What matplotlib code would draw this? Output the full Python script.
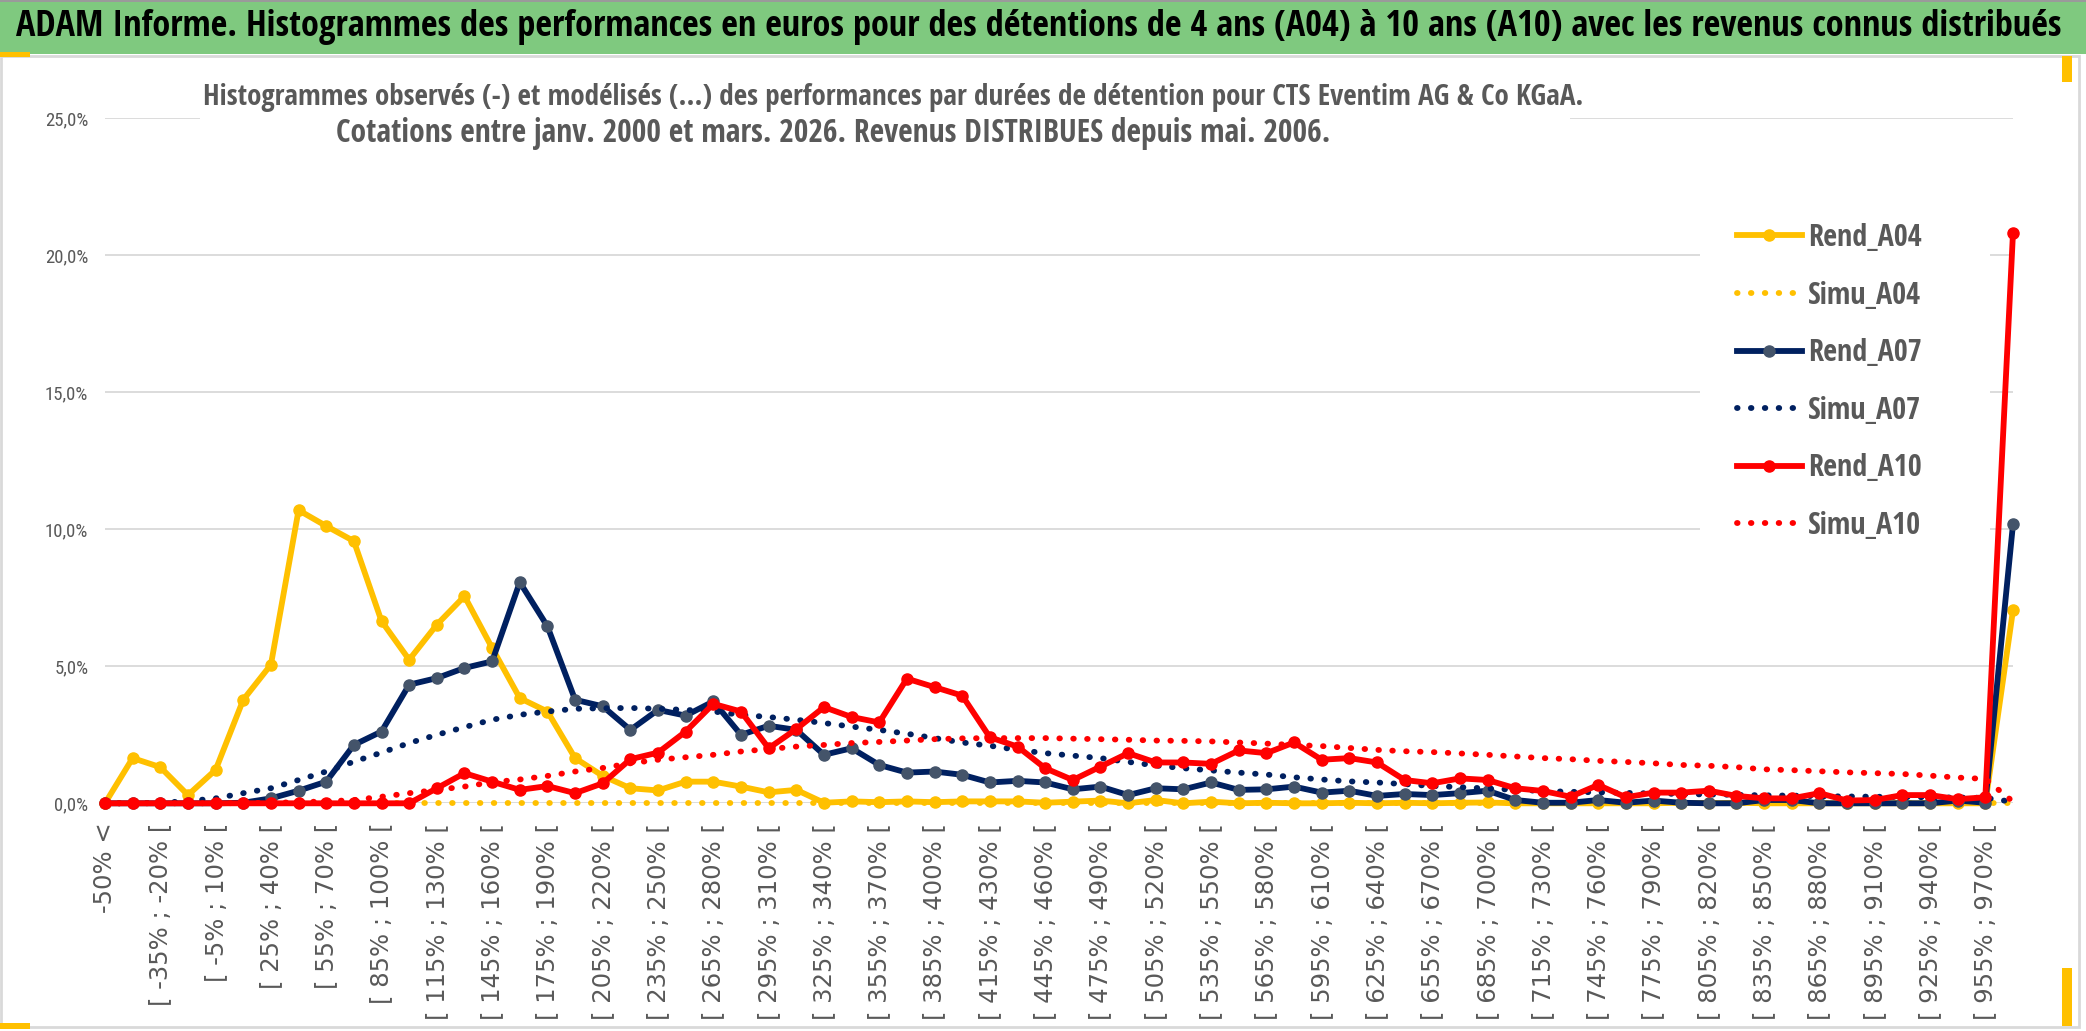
import matplotlib
matplotlib.use('Agg')
import matplotlib.pyplot as plt
from matplotlib import font_manager
from matplotlib.patches import Rectangle
from matplotlib.font_manager import FontProperties

# ---------------- data ----------------
categories = ["-50% <"] + [f"[ {a}% ; {a + 15}% [" for a in range(-50, 956, 15)] + ["> 970%"]

rend_a04 = [0.0, 1.65, 1.32, 0.3, 1.22, 3.78, 5.06, 10.7, 10.12, 9.57,
            6.65, 5.24, 6.52, 7.56, 5.67, 3.84, 3.35, 1.65, 1.0, 0.55,
            0.47, 0.79, 0.79, 0.61, 0.4, 0.49, 0.02, 0.07, 0.04, 0.07,
            0.04, 0.07, 0.07, 0.07, 0.02, 0.06, 0.1, 0.0, 0.12, 0.0,
            0.06, 0.0, 0.02, 0.0, 0.0, 0.02, 0.0, 0.02, 0.0, 0.02,
            0.03, 0.0, 0.0, 0.0, 0.0, 0.0, 0.0, 0.02, 0.0, 0.02,
            0.0, 0.0, 0.0, 0.0, 0.0, 0.0, 0.0, 0.0, 0.0, 7.05]

simu_a04 = [0.0] * 70

rend_a07 = [0.0, 0.0, 0.0, 0.0, 0.0, 0.02, 0.18, 0.46, 0.79, 2.13,
            2.62, 4.33, 4.57, 4.94, 5.18, 8.07, 6.46, 3.78, 3.54, 2.68,
            3.41, 3.2, 3.72, 2.5, 2.83, 2.68, 1.77, 2.01, 1.4, 1.12,
            1.16, 1.04, 0.76, 0.82, 0.76, 0.51, 0.61, 0.30, 0.55, 0.51,
            0.76, 0.49, 0.51, 0.61, 0.39, 0.46, 0.27, 0.34, 0.30, 0.37,
            0.46, 0.12, 0.02, 0.02, 0.12, 0.02, 0.1, 0.02, 0.0, 0.0,
            0.12, 0.12, 0.0, 0.0, 0.0, 0.0, 0.0, 0.1, 0.02, 10.19]

simu_a07 = [0.0, 0.0, 0.02, 0.08, 0.18, 0.37, 0.55, 0.85, 1.16, 1.52,
            1.85, 2.2, 2.5, 2.78, 3.05, 3.23, 3.35, 3.45, 3.47, 3.48,
            3.45, 3.41, 3.35, 3.23, 3.15, 3.05, 2.93, 2.8, 2.68, 2.54,
            2.38, 2.22, 2.1, 1.95, 1.83, 1.74, 1.65, 1.51, 1.38, 1.28,
            1.2, 1.12, 1.05, 0.95, 0.87, 0.8, 0.76, 0.7, 0.63, 0.59,
            0.54, 0.49, 0.45, 0.42, 0.40, 0.38, 0.36, 0.34, 0.32, 0.31,
            0.29, 0.28, 0.26, 0.25, 0.24, 0.23, 0.22, 0.21, 0.20, 0.05]

rend_a10 = [0.0, 0.0, 0.0, 0.0, 0.0, 0.0, 0.0, 0.0, 0.0, 0.0,
            0.0, 0.0, 0.55, 1.1, 0.79, 0.49, 0.63, 0.37, 0.73, 1.61,
            1.85, 2.62, 3.63, 3.35, 2.01, 2.71, 3.51, 3.15, 2.95, 4.55,
            4.24, 3.93, 2.41, 2.07, 1.28, 0.85, 1.34, 1.83, 1.49, 1.49,
            1.44, 1.93, 1.83, 2.22, 1.59, 1.65, 1.49, 0.85, 0.73, 0.91,
            0.85, 0.55, 0.45, 0.24, 0.67, 0.22, 0.39, 0.39, 0.46, 0.27,
            0.18, 0.18, 0.37, 0.10, 0.12, 0.30, 0.30, 0.15, 0.22, 20.83]

simu_a10 = [0.0, 0.0, 0.0, 0.0, 0.0, 0.01, 0.02, 0.04, 0.07, 0.12,
            0.24, 0.37, 0.49, 0.61, 0.77, 0.87, 1.0, 1.16, 1.29, 1.46,
            1.59, 1.68, 1.77, 1.89, 1.98, 2.07, 2.13, 2.2, 2.24, 2.29,
            2.34, 2.37, 2.38, 2.38, 2.38, 2.36, 2.34, 2.32, 2.29, 2.28,
            2.26, 2.22, 2.18, 2.13, 2.09, 2.02, 1.95, 1.9, 1.87, 1.82,
            1.77, 1.71, 1.65, 1.61, 1.55, 1.51, 1.46, 1.40, 1.37, 1.32,
            1.24, 1.21, 1.17, 1.13, 1.10, 1.07, 1.01, 0.94, 0.89, 0.06]

y_ticks = [0, 5, 10, 15, 20, 25]
y_tick_labels = ["0,0%", "5,0%", "10,0%", "15,0%", "20,0%", "25,0%"]

title = ("ADAM Informe. Histogrammes des performances en euros pour des détentions "
         "de 4 ans (A04) à 10 ans (A10) avec les revenus connus distribués")
subtitle1 = ("Histogrammes observés (-) et modélisés (...) des performances par durées "
             "de détention pour CTS Eventim AG & Co KGaA.")
subtitle2 = "Cotations entre janv. 2000 et mars. 2026. Revenus DISTRIBUES depuis mai. 2006."

# ---------------- style ----------------
names = {f.name for f in font_manager.fontManager.ttflist}
COND_B = 'Open Sans Condensed' if 'Open Sans Condensed' in names else 'Roboto Condensed'
COND_R = 'Roboto Condensed' if 'Roboto Condensed' in names else 'DejaVu Sans'
WIDE = 'DejaVu Sans'
GRAY = '#595959'
GRID = '#d9d9d9'
YEL, NAVY, RED, SLATE = '#FFC000', '#002060', '#FF0000', '#44546A'

W, H = 2086, 1031
fig = plt.figure(figsize=(W / 100, H / 100), dpi=100)
fig.patch.set_facecolor('white')
r = fig.canvas.get_renderer()


def fx(px):
    return px / W


def fy(py):
    return 1 - py / H


def fit(txt, target):
    w = txt.get_window_extent(r).width
    txt.set_fontsize(txt.get_fontsize() * target / w)


# header band
fig.add_artist(Rectangle((0, fy(54)), 1, 54 / H, transform=fig.transFigure,
                         fc='#7fc97f', ec='none', zorder=0))
fig.add_artist(Rectangle((0, fy(2)), 1, 2 / H, transform=fig.transFigure,
                         fc='#9a9a9a', ec='none', zorder=0))
# chart frame
fig.add_artist(Rectangle((fx(1), fy(1027)), fx(2079) - fx(1), (1027 - 56) / H,
                         transform=fig.transFigure, fill=False, ec=GRID, lw=2, zorder=0))
# small selection marks
for (x0, y0, x1, y1) in [(0, 52, 30, 57), (2062, 56, 2072, 82), (0, 1023, 30, 1029),
                         (2062, 968, 2072, 1026)]:
    fig.add_artist(Rectangle((fx(x0), fy(y1)), fx(x1) - fx(x0), (y1 - y0) / H,
                             transform=fig.transFigure, fc=YEL, ec='none', zorder=1))

ax = fig.add_axes([fx(105), fy(803.3), fx(2013) - fx(105), (803.3 - 118.4) / H])
ax.set_xlim(0, len(categories) - 1)
ax.set_ylim(0, 25)
for s in ax.spines.values():
    s.set_visible(False)
ax.set_axisbelow(True)

x = list(range(len(categories)))
ax.set_xticks(x[::2])
ax.set_xticklabels(categories[::2], fontfamily=WIDE, fontsize=17.5, color=GRAY)
ax.set_xticks(x[:-1:4], minor=True)
ax.xaxis.grid(True, which='minor', color=GRID, lw=1.3)
ax.xaxis.grid(False, which='major')
ax.set_yticks(y_ticks)
ax.set_yticklabels(y_tick_labels, fontfamily=COND_R, fontsize=13.5, color=GRAY)
ax.yaxis.grid(True, color=GRID, lw=1.3)
ax.tick_params(axis='x', which='both', length=0, pad=14, labelrotation=90)
ax.tick_params(axis='y', length=0, pad=12)

# white boxes behind subtitle and legend
ax.add_patch(Rectangle((fx(200), fy(150)), fx(1570) - fx(200), (150 - 60) / H,
                       transform=fig.transFigure, fc='white', ec='none', zorder=1))
ax.add_patch(Rectangle((fx(1700), fy(550)), fx(1990) - fx(1700), (550 - 203) / H,
                       transform=fig.transFigure, fc='white', ec='none', zorder=1))

LW = 4.2
DOT = (0, (0.1, 2.28))
series = [
    ("Rend_A04", rend_a04, YEL, YEL, '-'),
    ("Simu_A04", simu_a04, YEL, None, DOT),
    ("Rend_A07", rend_a07, NAVY, SLATE, '-'),
    ("Simu_A07", simu_a07, NAVY, None, DOT),
    ("Rend_A10", rend_a10, RED, RED, '-'),
    ("Simu_A10", simu_a10, RED, None, DOT),
]
handles = []
for k, (name, vals, col, mcol, ls) in enumerate(series):
    if mcol is not None:
        h, = ax.plot(x, vals, color=col, lw=LW, ls='-', marker='o', ms=8,
                     mfc=mcol, mec=mcol, solid_joinstyle='round', label=name,
                     clip_on=False, zorder=3 + k)
    else:
        h, = ax.plot(x, vals, color=col, lw=LW, ls=ls, dash_capstyle='round',
                     label=name, clip_on=False, zorder=3 + k)
    handles.append(h)

# legend font size fitted to the reference label width
tmp = fig.text(0, 0, "Rend_A04", fontsize=20, family=COND_B, fontweight='bold')
leg_fs = 20 * 114 / tmp.get_window_extent(r).width
tmp.remove()
leg_prop = FontProperties(family=COND_B, weight='bold', size=leg_fs)


def make_legend(anchor, ls):
    lg = ax.legend(handles=handles, loc='upper left', bbox_to_anchor=anchor,
                   bbox_transform=fig.transFigure, frameon=False, numpoints=1,
                   prop=leg_prop, labelcolor=GRAY, handlelength=2.15, handletextpad=0.2,
                   labelspacing=ls, borderpad=0, borderaxespad=0)
    lg.set_zorder(20)
    return lg


ROW0, ROWSTEP = 238, 57.6
anchor = [fx(1742), fy(214)]
ls = 0.85
leg = make_legend(tuple(anchor), ls)
fig.canvas.draw()
tb = [t_.get_window_extent(r) for t_ in leg.get_texts()]
fs_px = leg_fs * 100 / 72
sp_now = ((tb[0].y0 + tb[0].y1) / 2 - (tb[-1].y0 + tb[-1].y1) / 2) / 5
hrow = sp_now - ls * fs_px
ls = (ROWSTEP - hrow) / fs_px
leg = make_legend(tuple(anchor), ls)
fig.canvas.draw()
tb0 = leg.get_texts()[0].get_window_extent(r)
anchor[0] += (1808 - tb0.x0) / W
anchor[1] += ((H - ROW0) - (tb0.y0 + tb0.y1) / 2) / H
leg = make_legend(tuple(anchor), ls)

# titles
t = fig.text(fx(16), fy(27), title, ha='left', va='center', fontsize=24,
             fontweight='bold', color='black', family=COND_B)
s1 = fig.text(fx(203), fy(97), subtitle1, ha='left', va='center', fontsize=18,
              fontweight='bold', color=GRAY, family=COND_B, zorder=5)
s2 = fig.text(fx(336), fy(134), subtitle2, ha='left', va='center', fontsize=18,
              fontweight='bold', color=GRAY, family=COND_B, zorder=5)
fit(t, 2052)
fit(s1, 1380)
fit(s2, 995)

fig.savefig('out.png', dpi=100, facecolor='white')
